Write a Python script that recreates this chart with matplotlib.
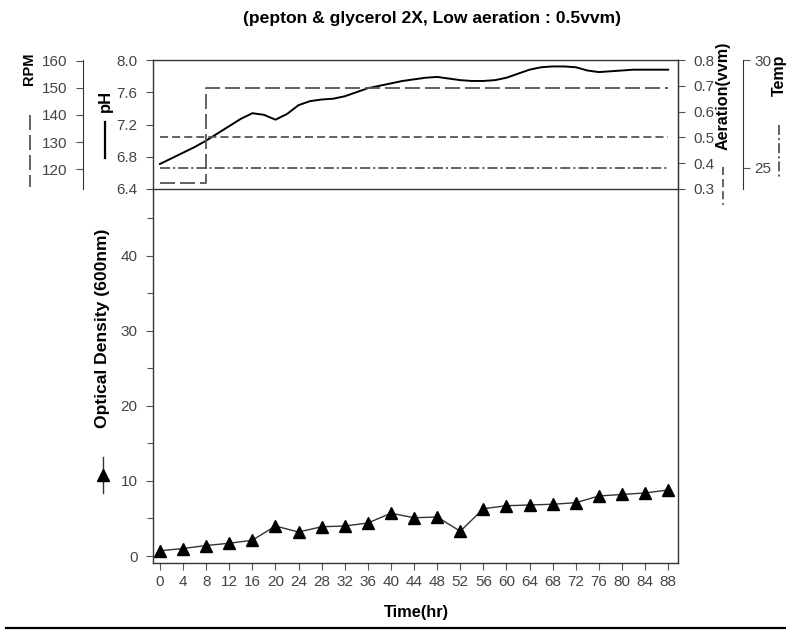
import matplotlib
matplotlib.use("Agg")
import matplotlib.pyplot as plt
import numpy as np
from matplotlib.lines import Line2D
from matplotlib.ticker import FormatStrFormatter

plt.rcParams['font.family'] = ['Liberation Sans Narrow', 'Liberation Sans', 'DejaVu Sans']
plt.rcParams['lines.scale_dashes'] = False

# culture data
time_hr = np.arange(0, 89, 4)
od600 = [0.7, 1.0, 1.4, 1.7, 2.1, 4.0, 3.2, 3.9, 4.0, 4.4, 5.7, 5.1,
         5.2, 3.3, 6.3, 6.7, 6.8, 6.9, 7.1, 8.0, 8.2, 8.4, 8.8]

ph_time = np.arange(0, 89, 2)
ph = [6.71, 6.78, 6.85, 6.92, 7.00, 7.09, 7.18, 7.27, 7.34, 7.32, 7.26, 7.33,
      7.44, 7.49, 7.51, 7.52, 7.55, 7.60, 7.65, 7.68, 7.71, 7.74, 7.76, 7.78,
      7.79, 7.77, 7.75, 7.74, 7.74, 7.75, 7.78, 7.83, 7.88, 7.91, 7.92, 7.92,
      7.91, 7.87, 7.85, 7.86, 7.87, 7.88, 7.88, 7.88, 7.88]

rpm_time = [0, 8, 88]
rpm = [115, 150, 150]
aer_time = [0, 88]
aeration = [0.5, 0.5]
temp_time = [0, 88]
temp = [25, 25]

W, H = 786, 630
fig = plt.figure(figsize=(W / 100, H / 100), dpi=100)


def box(x0, y0, x1, y1):
    return [x0 / W, 1 - y1 / H, (x1 - x0) / W, (y1 - y0) / H]


def fx(x):
    return x / W


def fy(y):
    return 1 - y / H


tick_col = '#444444'
line_col = '#555555'
bold = dict(fontweight='bold', family=['Liberation Sans', 'DejaVu Sans'])
XLIM = (-1.2, 89.7)
TICK = dict(direction='out', length=5, width=0.8, color=line_col,
            labelcolor=tick_col, labelsize=11)

# lower panel: optical density
ax = fig.add_axes(box(153, 189, 678, 563))
ax.plot(time_hr, od600, color='#333333', lw=1.0, marker='^', ms=9,
        mfc='black', mec='black')
ax.set_xlim(*XLIM)
ax.set_ylim(-0.93, 48.9)
ax.set_xticks(time_hr)
ax.set_yticks([0, 10, 20, 30, 40])
ax.set_yticks([5, 15, 25, 35, 45], minor=True)
ax.spines['top'].set_visible(False)
ax.tick_params(axis='both', which='both', **TICK)
ax.tick_params(axis='y', which='minor', length=4)
ax.tick_params(axis='y', pad=6)
for s in ['left', 'right', 'bottom']:
    ax.spines[s].set_color('#333333')
    ax.spines[s].set_linewidth(1.0)

# upper panel: pH with RPM, aeration and temperature
axp = fig.add_axes(box(153, 60, 678, 189))
axp.plot(ph_time, ph, color='black', lw=1.4)
axp.set_xlim(*XLIM)
axp.set_ylim(6.4, 8.0)
axp.set_yticks(np.arange(6.4, 8.01, 0.4))
axp.yaxis.set_major_formatter(FormatStrFormatter('%.1f'))
axp.set_xticks([])
axp.tick_params(axis='y', pad=6, **TICK)
for s in axp.spines.values():
    s.set_color('#333333')
    s.set_linewidth(1.0)

axa = axp.twinx()
axa.plot(aer_time, aeration, color=line_col, lw=1.3, linestyle=(0, (5.8, 2.9)))
axa.set_ylim(0.3, 0.8)
axa.set_yticks(np.arange(0.3, 0.81, 0.1))
axa.yaxis.set_major_formatter(FormatStrFormatter('%.1f'))
axa.tick_params(axis='y', pad=6, **TICK)
for s in ['top', 'bottom', 'left']:
    axa.spines[s].set_visible(False)
axa.spines['right'].set_color('#333333')

axr = axp.twinx()
axr.plot(rpm_time, rpm, color=line_col, lw=1.3, drawstyle='steps-post',
         linestyle=(0, (10.8, 3.6)))
axr.set_ylim(112.7, 160.2)
axr.set_yticks([120, 130, 140, 150, 160])
axr.yaxis.set_ticks_position('left')
axr.spines['left'].set_position(('outward', 50.4))
axr.spines['left'].set_visible(True)
axr.spines['left'].set_color('#333333')
for s in ['top', 'bottom', 'right']:
    axr.spines[s].set_visible(False)
axr.tick_params(axis='y', pad=6, **TICK)

axt = axp.twinx()
axt.plot(temp_time, temp, color=line_col, lw=1.3,
         linestyle=(0, (7.2, 2.2, 1.5, 2.2)))
axt.set_ylim(24, 30)
axt.set_yticks([25, 30])
axt.spines['right'].set_position(('outward', 46.8))
axt.spines['right'].set_color('#333333')
for s in ['top', 'bottom', 'left']:
    axt.spines[s].set_visible(False)
axt.tick_params(axis='y', pad=3, **TICK)

# axis titles with their line samples
fig.text(fx(432), fy(19), '(pepton & glycerol 2X, Low aeration : 0.5vvm)',
         ha='center', va='center', fontsize=12.6, **bold)
fig.text(fx(416), fy(613), 'Time(hr)', ha='center', va='center', fontsize=11.8, **bold)
fig.text(fx(29), fy(69), 'RPM', rotation=90, ha='center', va='center',
         fontsize=10.5, **bold)
fig.text(fx(105), fy(101), 'pH', rotation=90, ha='center', va='center',
         fontsize=12, **bold)
fig.text(fx(723), fy(96), 'Aeration(vvm)', rotation=90, ha='center', va='center',
         fontsize=11.6, **bold)
fig.text(fx(779.5), fy(75), 'Temp', rotation=90, ha='center', va='center',
         fontsize=11.5, **bold)
fig.text(fx(103), fy(328), 'Optical Density (600nm)', rotation=90,
         ha='center', va='center', fontsize=12.6, **bold)

samples = [
    (30, 115, 187, dict(color=line_col, lw=1.3, linestyle=(0, (10.8, 3.6)))),
    (105, 122, 158, dict(color='black', lw=1.6)),
    (723, 167, 205, dict(color=line_col, lw=1.3, linestyle=(0, (5.8, 2.9)))),
    (779, 125, 177, dict(color=line_col, lw=1.3, linestyle=(0, (7.2, 2.2, 1.5, 2.2)))),
    (103, 457, 493, dict(color='#333333', lw=1.0)),
]
for x, y0, y1, kw in samples:
    fig.add_artist(Line2D([fx(x), fx(x)], [fy(y0), fy(y1)],
                          transform=fig.transFigure, **kw))
fig.add_artist(Line2D([fx(103)], [fy(475)], transform=fig.transFigure,
                      marker='^', ms=9, color='black', linestyle='none'))

# rule under the figure
fig.add_artist(Line2D([fx(6), fx(786)], [fy(628), fy(628)],
                      transform=fig.transFigure, color='black', lw=1.6))

fig.savefig('out.png', dpi=100)
